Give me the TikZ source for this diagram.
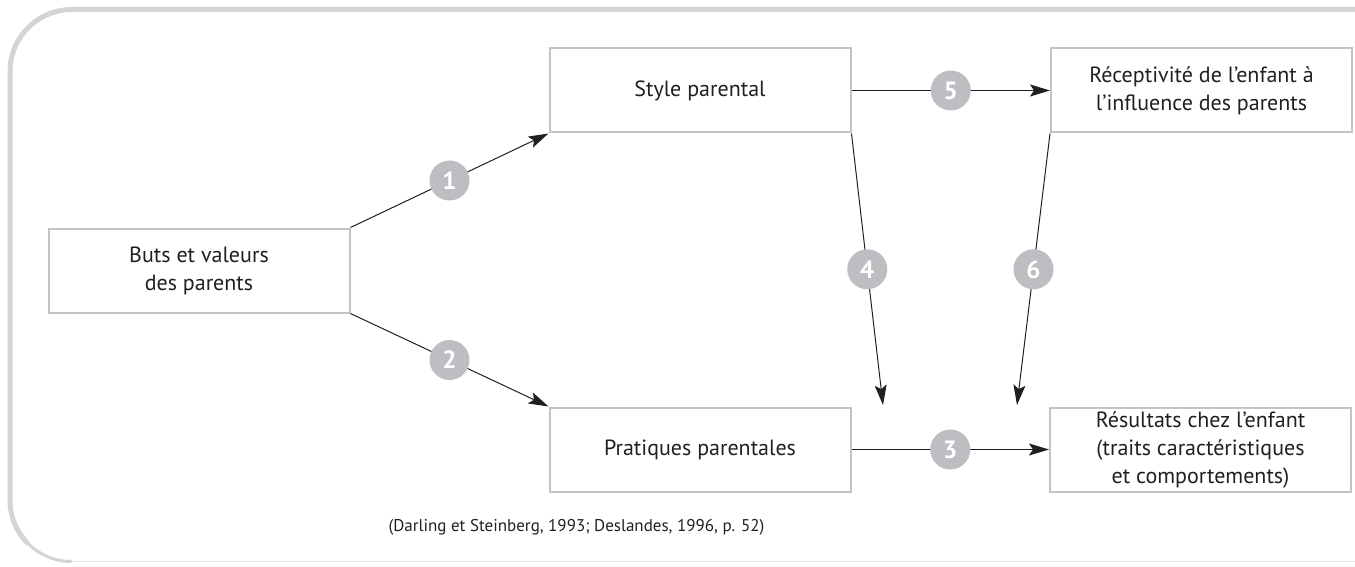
\documentclass[tikz,border=0pt]{standalone}
\usepackage{fontspec}
\setmainfont{PT Sans}
\usetikzlibrary{arrows.meta}
\definecolor{frame}{HTML}{D3D4D6}
\definecolor{framelt}{HTML}{E8E8EA}
\definecolor{boxline}{HTML}{C2C3C6}
\definecolor{numfill}{HTML}{BDBEC1}
\definecolor{ink}{HTML}{231F20}
\tikzset{
  box/.style={draw=boxline, line width=2pt, fill=white, minimum width=301pt, minimum height=84pt, inner sep=0pt, align=center, text=ink, font=\fontsize{22}{28}\selectfont},
  arr/.style={draw=ink, line width=1pt, -{Stealth[length=20pt, width=12pt, inset=4pt]}},
  num/.style={circle, fill=numfill, minimum size=40pt, inner sep=0pt, text=white, font=\fontsize{25}{25}\selectfont\bfseries},
}
\begin{document}
\begin{tikzpicture}[x=1pt, y=-1pt]
\useasboundingbox (0,0) rectangle (1355,567);
% frame
\draw[frame, line width=5pt] (1355,9.5) -- (72,9.5) arc[start angle=270, end angle=180, radius=62] -- (10,500) arc[start angle=180, end angle=135, radius=62];
\draw[framelt, line width=1.5pt] (60,561.5) -- (1355,561.5);
\draw[frame, line width=3pt] (10,500) arc[start angle=180, end angle=90, radius=61.5];
% boxes
\node[box] (buts) at (199,270.5) {Buts et valeurs\\des parents};
\node[box] (style) at (700,90.5) {Style parental};
\node[box] (recep) at (1201.5,90.5) {Réceptivité de l’enfant à\\l’influence des parents};
\node[box] (prat) at (700,449.5) {Pratiques parentales};
\node[box] (resu) at (1200.5,449.5) {Résultats chez l’enfant\\(traits caractéristiques\\et comportements)};
\coordinate (e4) at (883,405);
\coordinate (e6) at (1017,405);
% connectors
\draw[arr] (buts.north east) -- node[num]{1} (style.south west);
\draw[arr] (buts.south east) -- node[num]{2} (prat.north west);
\draw[arr] (prat.east) -- node[num]{3} (resu.west);
\draw[arr] (style.south east) -- node[num]{4} (e4);
\draw[arr] (style.east) -- node[num]{5} (recep.west);
\draw[arr] (recep.south west) -- node[num]{6} (e6);
% source
\node[text=ink, font=\fontsize{17}{20}\selectfont, anchor=west] (src) at (385,527) {(Darling et Steinberg, 1993; Deslandes, 1996, p. 52)};
\end{tikzpicture}
\end{document}
